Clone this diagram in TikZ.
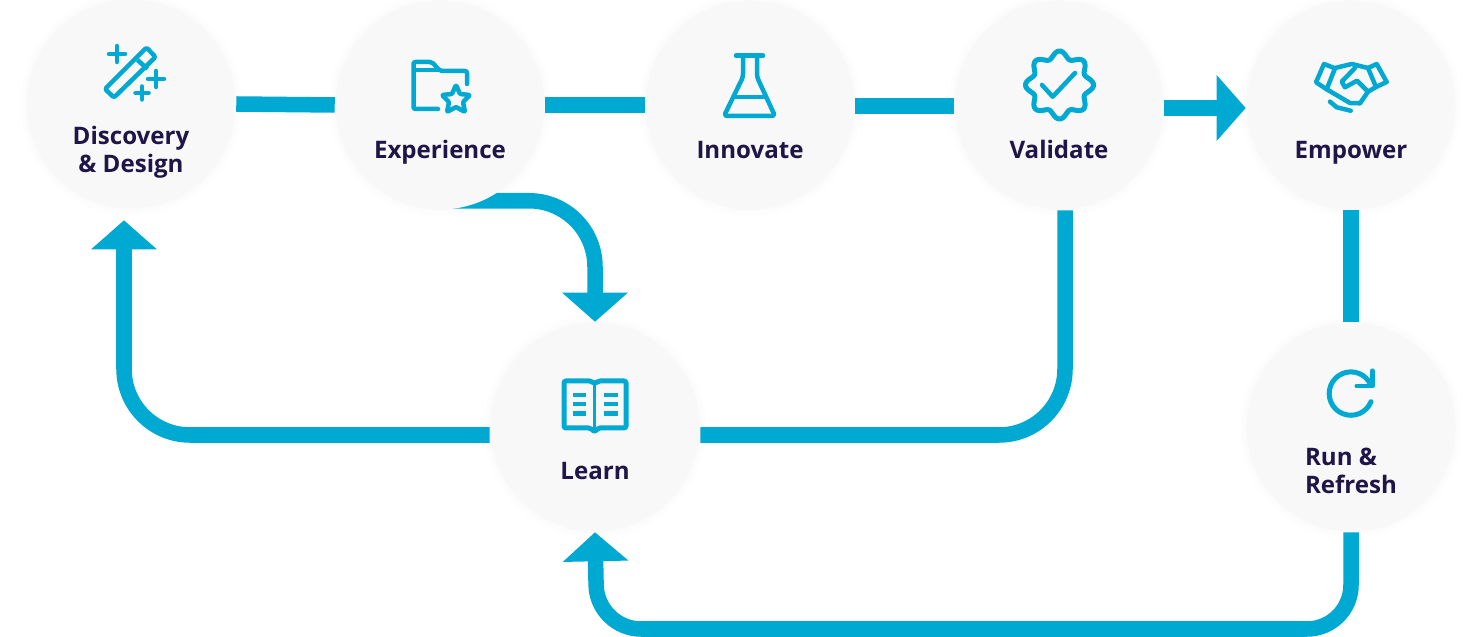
\documentclass[tikz,border=0pt]{standalone}
\usepackage{fontspec}
\setmainfont{Open Sans}
\usetikzlibrary{arrows.meta,backgrounds}
\definecolor{flowblue}{HTML}{00A9D1}
\definecolor{labelnavy}{HTML}{1F1547}
\definecolor{discfill}{HTML}{F8F8F8}
\tikzset{
  disc/.style={circle,fill=discfill,minimum size=2.09cm,inner sep=0pt},
  caption/.style={text=labelnavy,font=\fontsize{6.85}{8}\selectfont\bfseries,inner sep=0pt,align=center},
  flow/.style={draw=flowblue,line width=.155cm},
  flowtip/.style={-{Triangle[length=.29cm,width=.64cm]}},
  flowbend/.style={rounded corners=.66cm},
  icon/.style={draw=flowblue,line width=.045cm,line cap=round,line join=round},
}
\begin{document}
\begin{tikzpicture}[x=.01cm,y=-.01cm]
\useasboundingbox (0,0) rectangle (1481,637);
\node[disc] (discovery) at (131,104) {};
\node[disc] (experience) at (440,105) {};
\node[disc] (innovate) at (750,105) {};
\node[disc] (validate) at (1059,105) {};
\node[disc] (empower) at (1351,105) {};
\node[disc] (learn) at (595,427) {};
\node[disc] (run) at (1351,427) {};
\node[caption] (discoveryText) at (131,152) {Discovery\\\& Design};
\node[caption,anchor=base] (experienceText) at (440,158.5) {Experience};
\node[caption,anchor=base] (innovateText) at (750,158.5) {Innovate};
\node[caption,anchor=base] (validateText) at (1059,158.5) {Validate};
\node[caption,anchor=base] (empowerText) at (1351,158.5) {Empower};
\node[caption,anchor=base] (learnText) at (595,479.5) {Learn};
\node[caption,align=left] (runText) at (1351,471) {Run \&\\Refresh};
\begin{pgfonlayer}{background}
\foreach \n in {discovery,experience,innovate,validate,empower,learn,run}
  \foreach \r in {106,108,110,112}
    \fill[black,opacity=.003] (\n) circle[radius=\r];
\draw[flow] (discovery.east) -- (experience.west);
\draw[flow] (experience.east) -- (innovate.west);
\draw[flow] ([yshift=-.01cm]innovate.east) -- ([yshift=-.01cm]validate.west);
\draw[flow,flowtip] ([yshift=-.03cm]validate.east) -- ([yshift=-.03cm]empower.west);
\draw[flow] (empower.south) -- (run.north);
\draw[flow,flowbend,flowtip] ([yshift=.095cm]experience.south) -| (learn.north);
\draw[flow,flowbend] ([xshift=.06cm]validate.south) |- ([yshift=-.08cm]learn.east);
\draw[flow,flowbend,flowtip] ([yshift=-.08cm]learn.west) -| ([xshift=-.07cm,yshift=-.11cm]discovery.south);
\draw[flow,rounded corners=.44cm,flowtip] (run.south) |- (597,629) -- (learn.south);
\end{pgfonlayer}
% wand
\draw[icon,rounded corners=.02cm] (105,89) -- (114,97.5) -- (155.5,57) -- (146.5,47.5) -- cycle;
\draw[icon,line cap=butt] (137.5,60) -- (147.5,69);
\foreach \x/\y/\s in {117/54/8,156/79/8,142/93/6.5}
  \draw[icon] (\x-\s,\y) -- (\x+\s,\y) (\x,\y-\s) -- (\x,\y+\s);
% folder
\draw[icon,rounded corners=.02cm] (438,109) -- (413.5,109) -- (413.5,62) -- (432,62) -- (440,71) -- (467,71) -- (467,84);
\draw[icon] (414,70) -- (438,70);
\draw[icon,rounded corners=.01cm] (456,85) -- (460,94) -- (470,95) -- (463,102) -- (465,112) -- (456,107) -- (447,112) -- (449,102) -- (442,95) -- (452,94) -- cycle;
% flask
\draw[icon] (736,55.7) -- (763,55.7);
\draw[icon,rounded corners=.03cm] (743,56) -- (743,77) -- (724,116) -- (775,116) -- (757,77) -- (757,56);
\draw[icon] (735,97) -- (765,97);
% badge
\draw[icon,line width=.05cm] plot[domain=0:360,samples=145] ({1059.5+(30.5+3.5*cos(8*\x))*cos(\x)},{85+(30.5+3.5*cos(8*\x))*sin(\x)}) -- cycle;
\draw[icon] (1042,85) -- (1052.7,96.7) -- (1075,73);
% handshake
\draw[icon] (1324,64) -- (1335,68.3) -- (1326.7,89.3) -- (1316,82.3) -- cycle;
\draw[icon] (1376.7,64) -- (1368,68) -- (1376,87) -- (1386.7,82) -- cycle;
\draw[icon] (1335,68) -- (1351.7,64) -- (1368,68);
\draw[icon] (1355,68) -- (1341.7,81.7) -- (1345,87.3) -- (1357,80.7) -- (1368,91.7);
\draw[icon] (1376,87) -- (1368,91.7) -- (1360,103.3) -- (1350,103) -- (1326.7,89.3);
\draw[icon] (1330,101.7) -- (1336.7,107.3) -- (1350.7,110.7);
% book
\draw[icon,line width=.05cm,rounded corners=.02cm] (564,381) -- (591.7,381) -- (594.5,384) -- (598,381) -- (626,381) -- (626,428) -- (598,428) -- (594.5,432) -- (590.7,428) -- (564,428) -- cycle;
\draw[icon,line width=.03cm,line cap=butt] (594.5,384) -- (594.5,432);
\foreach \y in {395,404,413.3}
  \draw[icon,line cap=butt] (572.7,\y) -- (585.7,\y) (604.3,\y) -- (617.7,\y);
% refresh
\draw[icon,line width=.05cm] (1371,401.7) arc[start angle=22,end angle=335,radius=21.7];
\draw[icon] (1372.3,370.7) -- (1372.3,386) -- (1356.7,386);
\end{tikzpicture}
\end{document}
